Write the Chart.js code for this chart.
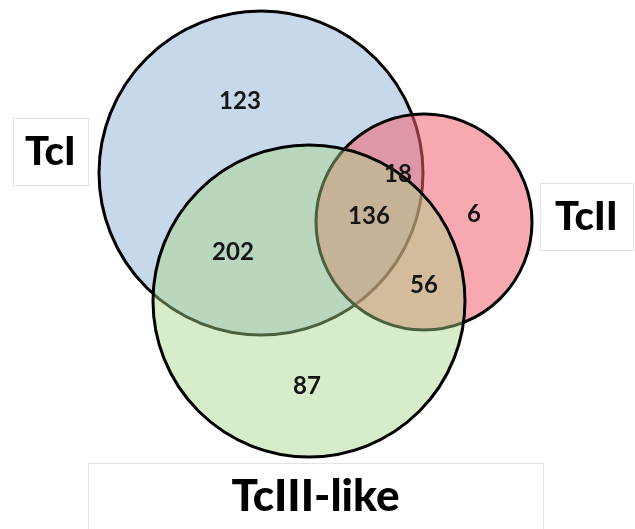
<!DOCTYPE html>
<html>
<head>
<meta charset="utf-8">
<script src="https://cdn.jsdelivr.net/npm/chart.js@4.4.1/dist/chart.umd.min.js"></script>
<style>
  html, body { margin: 0; padding: 0; background: #fff; }
</style>
</head>
<body>
<canvas id="venn" width="635" height="529"></canvas>
<script>
// sets of the venn diagram, circle centre and radius in chart units
const setNames = ['TcI', 'TcII', 'TcIII-like']
const setX = [261, 424, 309]
const setY = [173, 222, 301]
const setR = [162, 108, 156]
const setColors = ['rgba(146,178,216,0.5)', 'rgba(242,97,111,0.55)', 'rgba(166,213,133,0.45)']

// counts in each region
const regionCounts = [123, 18, 6, 136, 202, 56, 87]
const regionX = [240, 398, 474, 369, 233, 424, 307]
const regionY = [101, 174, 214, 216, 252, 285, 386]

// set label boxes
const boxLeft = [13, 540, 88]
const boxTop = [118, 183, 463]
const boxRight = [88, 633, 543]
const boxBottom = [185, 250, 540]
const labelSize = [40, 40, 44]

const regionLabels = {
  id: 'regionLabels',
  afterDatasetsDraw (chart) {
    const { ctx, scales: { x, y } } = chart
    ctx.save()
    ctx.fillStyle = '#151515'
    ctx.font = 'bold 24px Lato'
    ctx.textAlign = 'center'
    ctx.textBaseline = 'middle'
    regionCounts.forEach((n, i) => {
      ctx.fillText(String(n), x.getPixelForValue(regionX[i]), y.getPixelForValue(regionY[i]))
    })
    setNames.forEach((name, i) => {
      const l = x.getPixelForValue(boxLeft[i])
      const r = x.getPixelForValue(boxRight[i])
      const t = y.getPixelForValue(boxTop[i])
      const b = y.getPixelForValue(boxBottom[i])
      ctx.fillStyle = '#fff'
      ctx.fillRect(l, t, r - l, b - t)
      ctx.strokeStyle = '#e3e3e3'
      ctx.lineWidth = 1
      ctx.strokeRect(l + 0.5, t + 0.5, r - l, b - t)
      ctx.fillStyle = '#000'
      ctx.font = '900 ' + labelSize[i] + 'px Lato'
      const cy = i === 2 ? (t + 529) / 2 : (t + b) / 2
      ctx.fillText(name, (l + r) / 2, cy + 1)
    })
    ctx.restore()
  }
}

const ctx = document.querySelector('#venn')
const myChart = new Chart(ctx, {
  type: 'bubble',
  data: {
    datasets: setNames.map((name, i) => ({
      label: name,
      data: [{ x: setX[i], y: setY[i], r: setR[i] }],
      backgroundColor: setColors[i],
      borderColor: '#000',
      borderWidth: 3,
      clip: false,
      // later sets are painted over the earlier ones
      order: setNames.length - i
    }))
  },
  options: {
    responsive: false,
    animation: false,
    layout: { padding: 0, autoPadding: false },
    plugins: { legend: { display: false }, tooltip: { enabled: false } },
    scales: {
      x: { type: 'linear', min: 0, max: 635, display: false },
      y: { type: 'linear', min: 0, max: 529, reverse: true, display: false }
    }
  },
  plugins: [regionLabels]
})
</script>
</body>
</html>
